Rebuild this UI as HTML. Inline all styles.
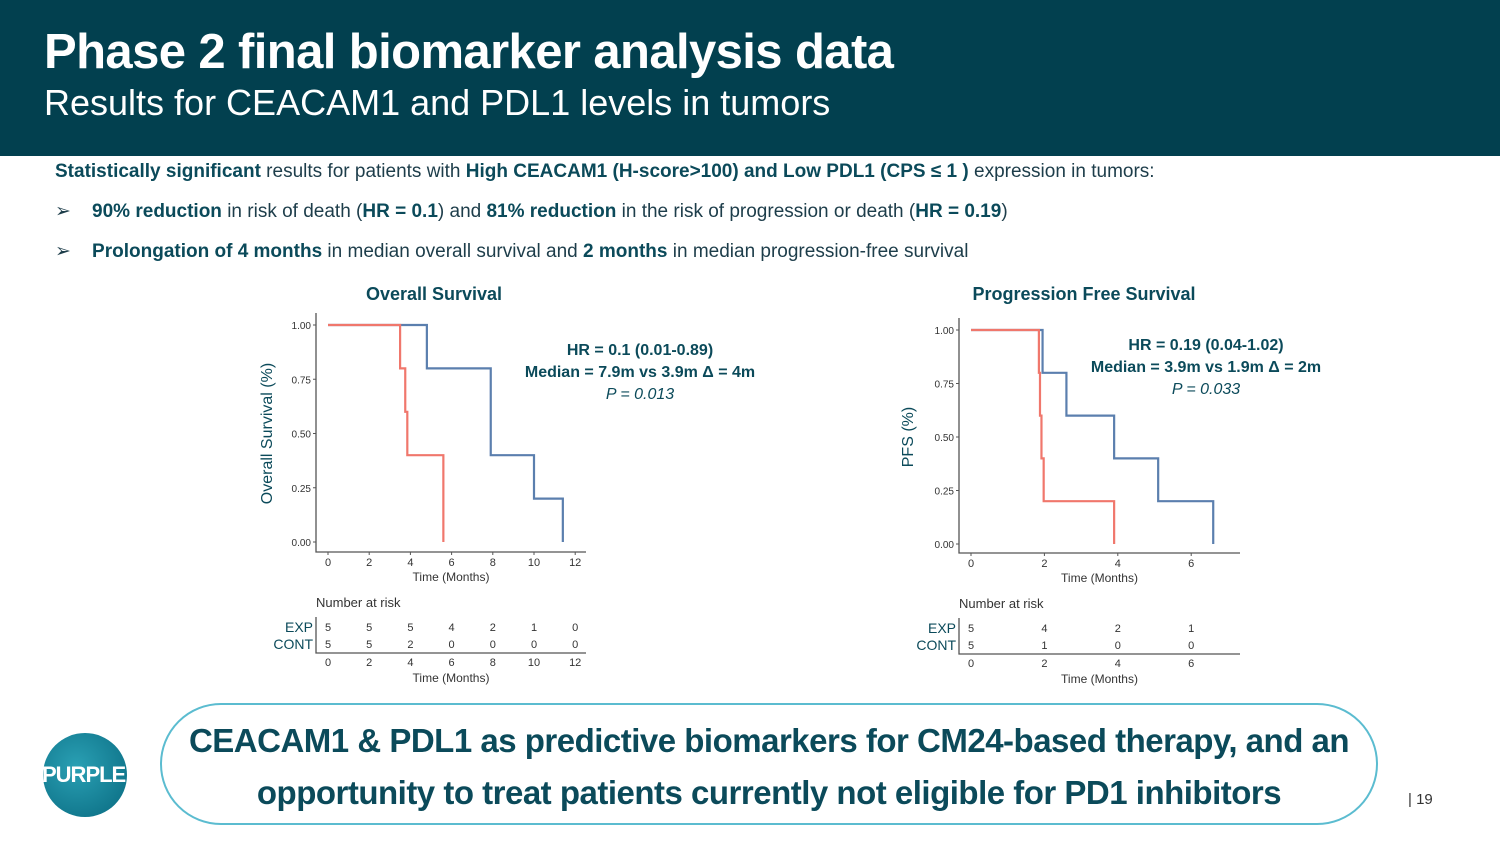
<!DOCTYPE html>
<html><head><meta charset="utf-8"><style>
*{margin:0;padding:0;box-sizing:border-box}
body{width:1500px;height:843px;background:#fff;position:relative;overflow:hidden;font-family:"Liberation Sans",sans-serif}
.hdr{position:absolute;left:0;top:0;width:1500px;height:156px;background:#02404f}
.t1{position:absolute;left:44px;top:24px;color:#fff;font-weight:bold;font-size:49px;letter-spacing:-0.6px}
.t2{position:absolute;left:44px;top:82px;color:#fff;font-size:36px}
.txt{position:absolute;color:#1d3d4a;font-size:19px;white-space:nowrap}
.txt b{color:#0b4a5a}
.pill{position:absolute;left:160px;top:703px;width:1218px;height:122px;border:2px solid #5bbcd0;border-radius:61px;text-align:center;color:#0b4a5a;font-weight:bold;font-size:33px;line-height:52px;padding-top:10px;letter-spacing:-0.5px}
</style></head><body>
<div class="hdr">
<div class="t1">Phase 2 final biomarker analysis data</div>
<div class="t2">Results for CEACAM1 and PDL1 levels in tumors</div>
</div>
<div class="txt" style="left:55px;top:161px"><b>Statistically significant</b> results for patients with <b>High CEACAM1 (H-score&gt;100) and Low PDL1 (CPS ≤ 1 )</b> expression in tumors:</div>
<div class="txt" style="left:55px;top:200px">➢&nbsp;&nbsp;&nbsp;&nbsp;<b>90% reduction</b> in risk of death (<b>HR = 0.1</b>) and <b>81% reduction</b> in the risk of progression or death (<b>HR = 0.19</b>)</div>
<div class="txt" style="left:55px;top:240px">➢&nbsp;&nbsp;&nbsp;&nbsp;<b>Prolongation of 4 months</b> in median overall survival and <b>2 months</b> in median progression-free survival</div>

<svg id="chart" width="1500" height="843" style="position:absolute;left:0;top:0"></svg>

<div class="pill">CEACAM1 &amp; PDL1 as predictive biomarkers for CM24-based therapy, and an<br>opportunity to treat patients currently not eligible for PD1 inhibitors</div>
<div style="position:absolute;left:43px;top:733px;width:84px;height:84px;border-radius:50%;background:radial-gradient(circle at 40% 40%,#2aa0b4,#08697f)"></div>
<div style="position:absolute;left:42px;top:762px;color:#fff;font-weight:bold;font-size:22px;letter-spacing:-1px">PURPLE</div>
<div style="position:absolute;left:1408px;top:791px;font-size:15px;color:#333">| 19</div>

<script>
const osBlueT=[0,4.8,7.9,10,11.4];
const osBlueS=[1,0.8,0.4,0.2,0];
const osRedT=[0,3.5,3.75,3.85,5.6,5.6];
const osRedS=[1,0.8,0.6,0.4,0.2,0];
const pfsBlueT=[0,1.95,2.6,3.9,5.1,6.6];
const pfsBlueS=[1,0.8,0.6,0.4,0.2,0];
const pfsRedT=[0,1.85,1.88,1.92,1.98,3.9];
const pfsRedS=[1,0.8,0.6,0.4,0.2,0];
const yTicks=[0,0.25,0.5,0.75,1];
const yTickLabels=["0.00","0.25","0.50","0.75","1.00"];
const osXTicks=[0,2,4,6,8,10,12];
const pfsXTicks=[0,2,4,6];
const osRiskExp=[5,5,5,4,2,1,0];
const osRiskCont=[5,5,2,0,0,0,0];
const pfsRiskExp=[5,4,2,1];
const pfsRiskCont=[5,1,0,0];

const svg=document.getElementById('chart');
const NS='http://www.w3.org/2000/svg';
function mk(tag,at,txt){const e=document.createElementNS(NS,tag);for(const k in at)e.setAttribute(k,at[k]);if(txt!==undefined)e.textContent=txt;svg.appendChild(e);return e;}

function panel(cfg){
  const sx=t=>cfg.x0+t*cfg.kx, sy=s=>cfg.y1+(1-s)*(cfg.y0-cfg.y1);
  let e;
  e=mk('text',{x:cfg.titleX,y:cfg.titleY,'text-anchor':'middle','font-size':18,'font-weight':'bold',fill:'#0b4a5a'},cfg.title);
  
  e=mk('path',{d:`M${cfg.ax} ${cfg.y1-12}V${cfg.ab}H${cfg.ar}`,fill:'none',stroke:'#555','stroke-width':1.3});
  
  yTicks.forEach((v,i)=>{
    e=mk('line',{x1:cfg.ax-3,x2:cfg.ax,y1:sy(v),y2:sy(v),stroke:'#555'});
    
    e=mk('text',{x:cfg.ax-5,y:sy(v)+4,'text-anchor':'end','font-size':10,fill:'#333'},yTickLabels[i]);
    
  });
  cfg.xt.forEach(v=>{
    e=mk('line',{x1:sx(v),x2:sx(v),y1:cfg.ab,y2:cfg.ab+3,stroke:'#555'});
    
    e=mk('text',{x:sx(v),y:cfg.ab+14,'text-anchor':'middle','font-size':11,fill:'#333'},v);
    
  });
  e=mk('text',{x:(cfg.ax+cfg.ar)/2,y:cfg.ab+29,'text-anchor':'middle','font-size':12,fill:'#333'},'Time (Months)');
  
  const yc=(cfg.y0+cfg.y1)/2;
  e=mk('text',{x:cfg.ylx,y:yc,'text-anchor':'middle','font-size':16,fill:'#0b4a5a',transform:`rotate(-90 ${cfg.ylx} ${yc})`},cfg.ylab);
  
  [[cfg.bT,cfg.bS,'#5b7fae','exp-curve'],[cfg.rT,cfg.rS,'#f0776c','control-curve']].forEach(([T,S,c,n])=>{
    let d=`M${sx(T[0])} ${sy(S[0])}`;
    for(let i=1;i<T.length;i++){d+=`H${sx(T[i])}V${sy(S[i])}`;}
    e=mk('path',{d:d,fill:'none',stroke:c,'stroke-width':2.2});
    
  });
  cfg.ann.forEach((a,i)=>{
    e=mk('text',{x:cfg.annX,y:cfg.annY+i*22,'text-anchor':'middle','font-size':16,'font-weight':i<2?'bold':'normal','font-style':i==2?'italic':'normal',fill:'#0b4a5a'},a);
    
  });
  const r0=cfg.ab+75, rb=r0+26;
  e=mk('text',{x:cfg.ax,y:r0-20,'font-size':13,fill:'#333'},'Number at risk');
  
  e=mk('path',{d:`M${cfg.ax} ${r0-10}V${rb}H${cfg.ar}`,fill:'none',stroke:'#555','stroke-width':1.3});
  
  [['EXP',cfg.re,r0],['CONT',cfg.rc,r0+17]].forEach(([lab,arr,y])=>{
    e=mk('text',{x:cfg.ax-3,y:y+5,'text-anchor':'end','font-size':14,fill:'#0b4a5a'},lab);
    
    arr.forEach((v,i)=>{
      e=mk('text',{x:sx(cfg.xt[i]),y:y+4,'text-anchor':'middle','font-size':11,fill:'#333'},v);
      
    });
  });
  cfg.xt.forEach(v=>{
    e=mk('text',{x:sx(v),y:rb+13,'text-anchor':'middle','font-size':11,fill:'#333'},v);
    
  });
  e=mk('text',{x:(cfg.ax+cfg.ar)/2,y:rb+29,'text-anchor':'middle','font-size':12,fill:'#333'},'Time (Months)');
  
}
panel({id:'os',title:'Overall Survival',titleX:434,titleY:300,x0:328,kx:20.6,y1:325,y0:542,ax:316,ab:552,ar:586,ylx:272,ylab:'Overall Survival (%)',
  xt:osXTicks,bT:osBlueT,bS:osBlueS,rT:osRedT,rS:osRedS,re:osRiskExp,rc:osRiskCont,annX:640,annY:355,
  ann:['HR = 0.1 (0.01-0.89)','Median = 7.9m vs 3.9m \u0394 = 4m','P = 0.013']});
panel({id:'pfs',title:'Progression Free Survival',titleX:1084,titleY:300,x0:971,kx:36.7,y1:330,y0:544,ax:959,ab:553,ar:1240,ylx:913,ylab:'PFS (%)',
  xt:pfsXTicks,bT:pfsBlueT,bS:pfsBlueS,rT:pfsRedT,rS:pfsRedS,re:pfsRiskExp,rc:pfsRiskCont,annX:1206,annY:350,
  ann:['HR = 0.19 (0.04-1.02)','Median = 3.9m vs 1.9m \u0394 = 2m','P = 0.033']});
</script>
</body></html>
